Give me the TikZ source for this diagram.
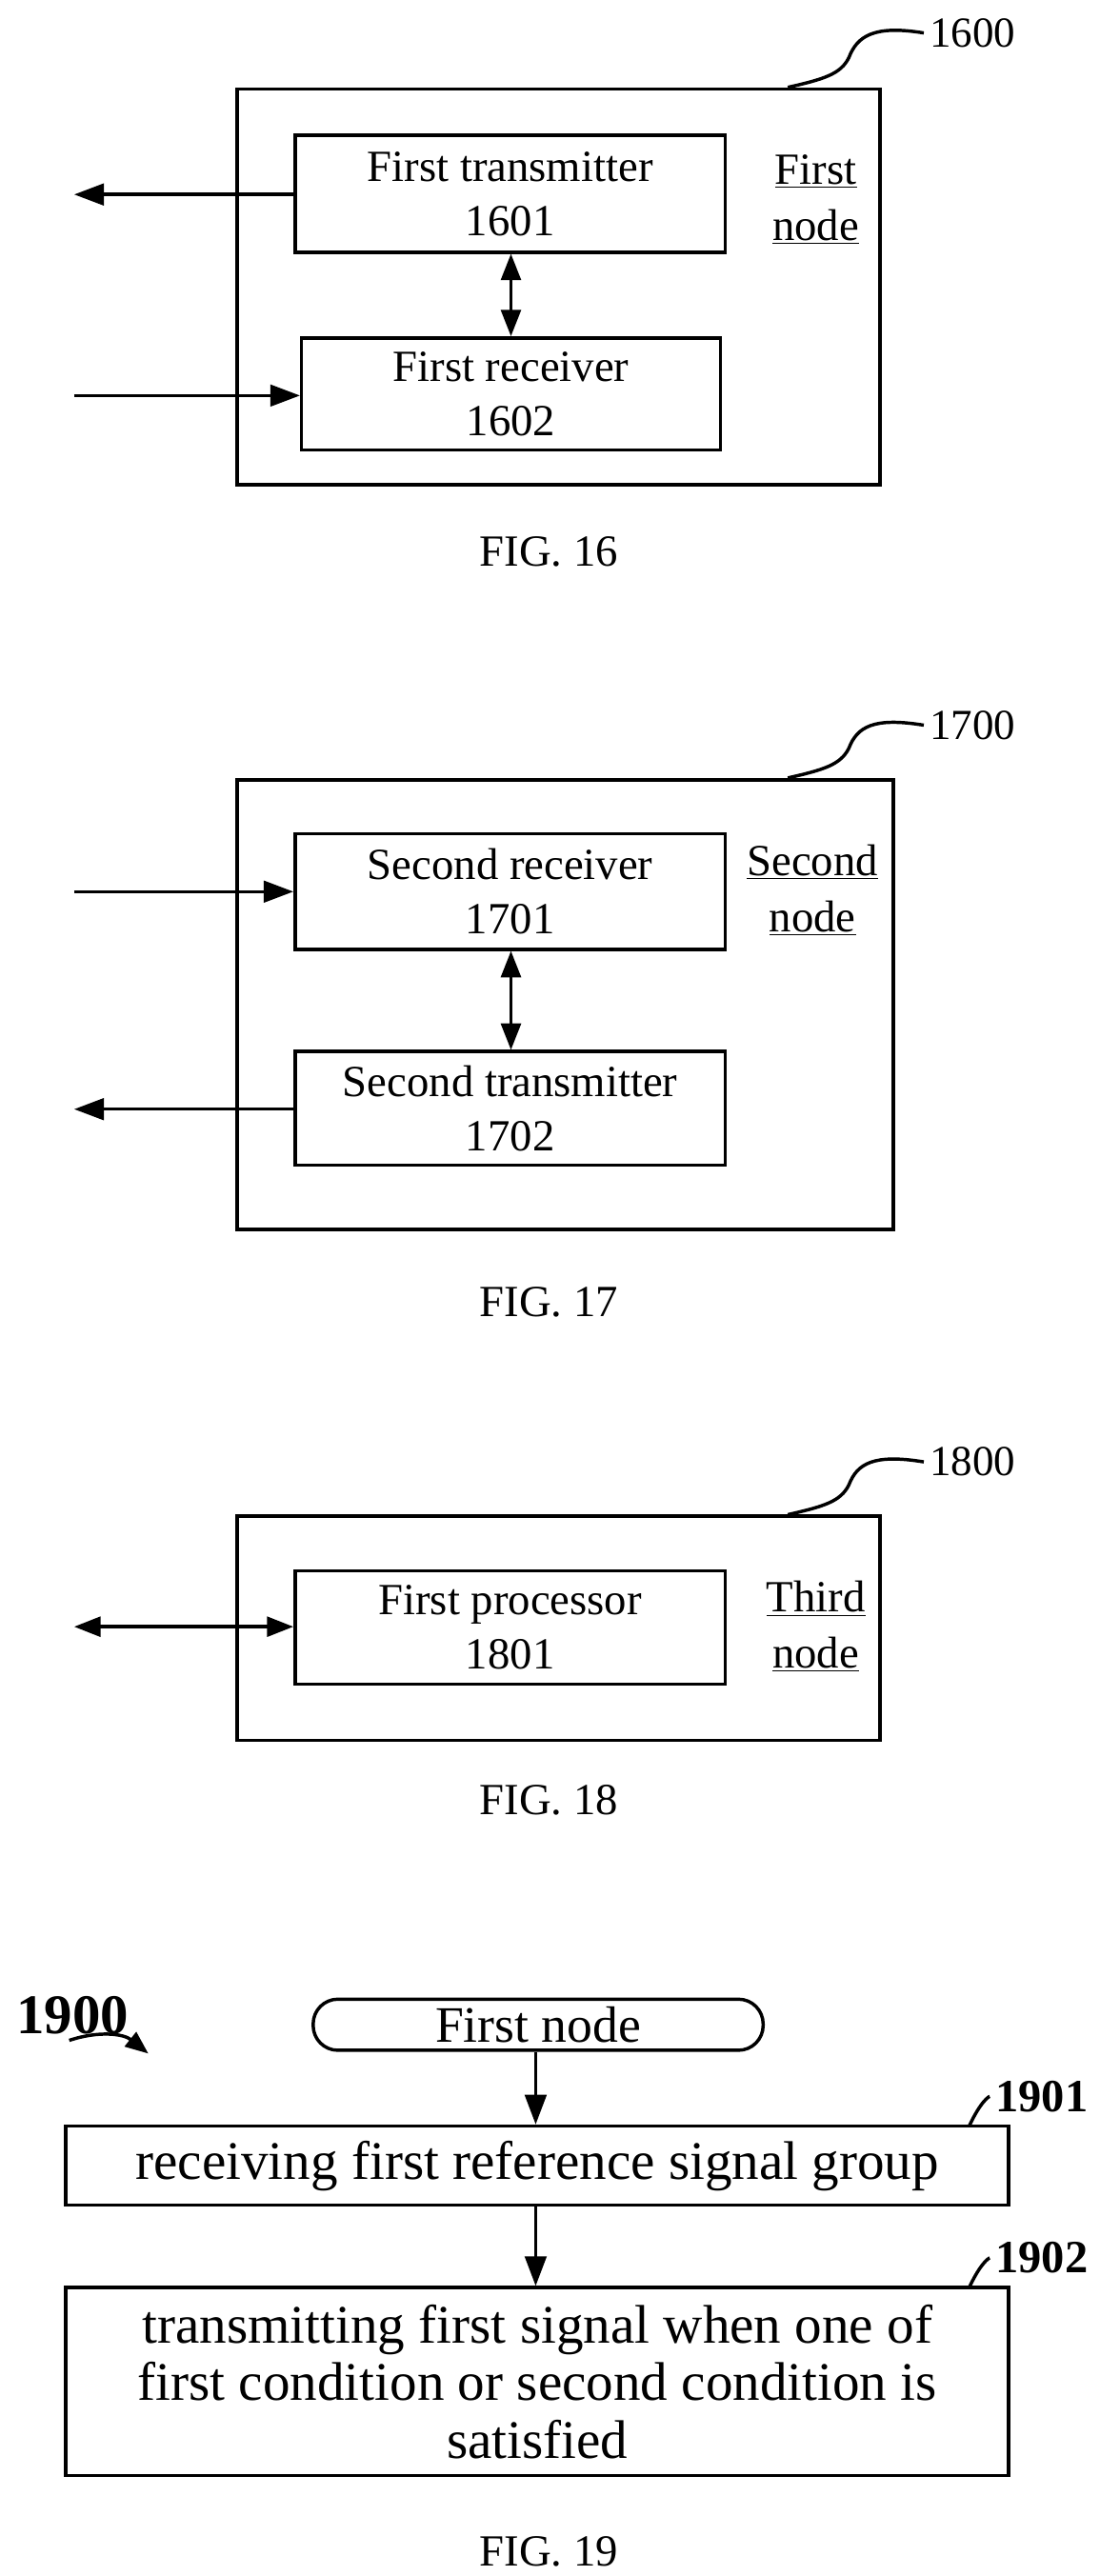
\documentclass[tikz,border=0pt]{standalone}
\usepackage{fontspec}
\setmainfont{Liberation Serif}
\usetikzlibrary{arrows.meta}
\begin{document}
\begin{tikzpicture}[x=1pt,y=-1pt,
  box/.style={draw,line width=2.2pt},
  inner/.style={draw,line width=2pt,align=center,font=\fontsize{27}{33}\selectfont},
  arr/.style={line width=2pt,-{Triangle[length=18pt,width=13pt]}},
  darr/.style={line width=2pt,{Triangle[length=16pt,width=12pt]}-{Triangle[length=16pt,width=12pt]}},
  lbl/.style={font=\fontsize{26}{30}\selectfont},
  figcap/.style={font=\fontsize{27}{30}\selectfont},
  ul/.style={font=\fontsize{27}{34}\selectfont,align=center}]
\useasboundingbox (0,0) rectangle (667,1563);
% FIG 16
\node[box,minimum width=390pt,minimum height=240pt] (o16) at (339,174) {};
\node[inner,minimum width=261pt,minimum height=71pt] (t1601) at (309.5,117.5) {First transmitter\\1601};
\node[inner,minimum width=254pt,minimum height=68pt] (r1602) at (310,239) {First receiver\\1602};
\coordinate (a16) at (45,118); \coordinate (b16) at (45,240);
\draw[arr] (t1601.west|-a16) -- (a16);
\draw[arr] (b16) -- (r1602.west|-b16);
\draw[darr] (t1601.south-|310,0) -- (r1602.north-|310,0);
\node[ul] (n16) at (495,121) {\underline{First}\\\underline{node}};
\node[lbl] (l1600) at (590,20) {1600};
\draw[line width=2pt] (478,53) .. controls (500,48) and (510,45) .. (515,35) .. controls (520,22) and (530,15) .. (l1600.west);
\node[figcap] (f16) at (333,335) {FIG. 16};
% FIG 17
\node[box,minimum width=398pt,minimum height=273pt] (o17) at (343,609.5) {};
\node[inner,minimum width=261pt,minimum height=70pt] (r1701) at (309.5,541) {Second receiver\\1701};
\node[inner,minimum width=261pt,minimum height=69pt] (t1702) at (309.5,672.5) {Second transmitter\\1702};
\coordinate (a17) at (45,541); \coordinate (b17) at (45,673);
\draw[arr] (a17) -- (r1701.west|-a17);
\draw[arr] (t1702.west|-b17) -- (b17);
\draw[darr] (r1701.south-|310,0) -- (t1702.north-|310,0);
\node[ul] (n17) at (493,540) {\underline{Second}\\\underline{node}};
\node[lbl] (l1700) at (590,440) {1700};
\draw[line width=2pt] (478,472) .. controls (500,467) and (510,464) .. (515,454) .. controls (520,441) and (530,435) .. (l1700.west);
\node[figcap] (f17) at (333,790) {FIG. 17};
% FIG 18
\node[box,minimum width=390pt,minimum height=136pt] (o18) at (339,988) {};
\node[inner,minimum width=261pt,minimum height=69pt] (p1801) at (309.5,987.5) {First processor\\1801};
\coordinate (a18) at (45,987);
\draw[darr] (a18) -- (p1801.west|-a18);
\node[ul] (n18) at (495,987) {\underline{Third}\\\underline{node}};
\node[lbl] (l1800) at (590,887) {1800};
\draw[line width=2pt] (478,919) .. controls (500,914) and (510,911) .. (515,901) .. controls (520,888) and (530,882) .. (l1800.west);
\node[figcap] (f18) at (333,1092) {FIG. 18};
% FIG 19
\node[draw,line width=2pt,rounded corners=15pt,minimum width=273pt,minimum height=31pt,inner sep=0pt,font=\fontsize{31}{34}\selectfont] (fn) at (326.5,1228.5) {First node};
\node[draw,line width=2pt,minimum width=572pt,minimum height=48pt,font=\fontsize{33}{38}\selectfont] (s1901) at (326,1314) {receiving first reference signal group};
\node[draw,line width=2pt,minimum width=572pt,minimum height=114pt,align=center,font=\fontsize{33}{35}\selectfont] (s1902) at (326,1445) {transmitting first signal when one of\\first condition or second condition is\\satisfied};
\draw[arr] (fn.south-|325,0) -- (s1901.north-|325,0);
\draw[arr] (s1901.south-|325,0) -- (s1902.north-|325,0);
\node[font=\bfseries\fontsize{34}{38}\selectfont] (l1900) at (44,1223) {1900};
\coordinate (e1900) at (90,1246);
\draw[line width=2pt,-{Triangle[length=14pt,width=11pt]}] (42,1238) .. controls (60,1232) and (75,1234) .. (e1900);
\node[font=\bfseries\fontsize{28}{32}\selectfont] (l1901) at (632,1272) {1901};
\draw[line width=2pt] (588,1290) .. controls (595,1275) and (600,1272) .. (l1901.west);
\node[font=\bfseries\fontsize{28}{32}\selectfont] (l1902) at (632,1370) {1902};
\draw[line width=2pt] (588,1388) .. controls (595,1373) and (600,1370) .. (l1902.west);
\node[figcap] (f19) at (333,1548) {FIG. 19};
\end{tikzpicture}
\end{document}
